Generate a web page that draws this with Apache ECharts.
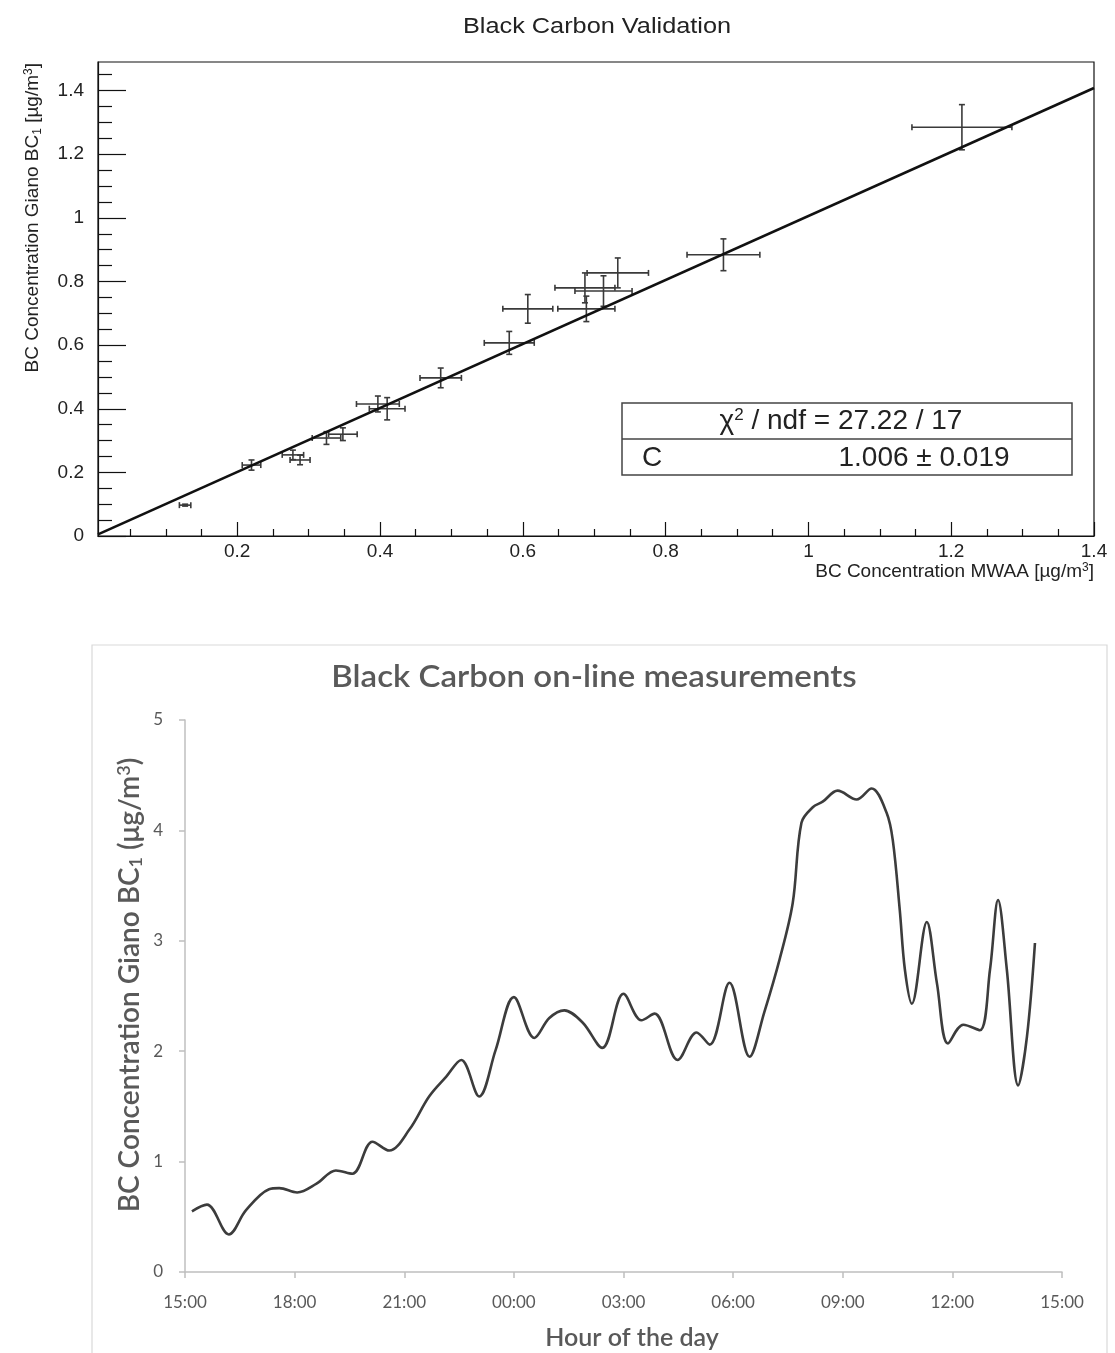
<!DOCTYPE html>
<html>
<head>
<meta charset="utf-8">
<script src="https://cdn.jsdelivr.net/npm/echarts@6/dist/echarts.min.js"></script>
<style>
html,body{margin:0;padding:0;background:#fff;}
#chart{width:1115px;height:1353px;}
</style>
</head>
<body>
<div id="chart"></div>
<script>
// ---------- Top chart: Black Carbon Validation ----------
const bcMWAA   = [0.127, 0.220, 0.278, 0.288, 0.325, 0.348, 0.397, 0.410, 0.485, 0.581, 0.607, 0.687, 0.689, 0.713, 0.733, 0.881, 1.215];
const bcGiano  = [0.097, 0.223, 0.255, 0.239, 0.308, 0.320, 0.415, 0.400, 0.497, 0.607, 0.714, 0.780, 0.714, 0.770, 0.827, 0.884, 1.285];
const errMWAA  = [0.008, 0.013, 0.015, 0.014, 0.020, 0.020, 0.030, 0.025, 0.029, 0.035, 0.035, 0.042, 0.040, 0.040, 0.043, 0.051, 0.070];
const errGiano = [0.003, 0.016, 0.015, 0.015, 0.020, 0.020, 0.025, 0.035, 0.031, 0.036, 0.045, 0.047, 0.040, 0.048, 0.047, 0.050, 0.071];
const fitC = 1.006, fitErr = 0.019, chi2 = 27.22, ndf = 17;
const topXMajor = [0.2, 0.4, 0.6, 0.8, 1, 1.2, 1.4];
const topYMajor = [0, 0.2, 0.4, 0.6, 0.8, 1, 1.2, 1.4];
const topXRange = [0.005, 1.4];
const topYRange = [0, 1.49];

// ---------- Bottom chart: on-line measurements ----------
const hourLabels = ['15:00','18:00','21:00','00:00','03:00','06:00','09:00','12:00','15:00'];
const hoursSince15 = [0.19, 0.6, 1.2, 1.67, 2.3, 2.58, 3.07, 3.6, 4.13, 4.58, 5.13, 5.59, 6.14, 6.68, 7.15, 7.56, 8.05, 8.5, 9.0, 9.56, 9.97, 10.38, 10.88, 11.42, 12.0, 12.49, 12.85, 13.48, 14.0, 14.36, 14.9, 15.45, 15.85, 16.27, 16.63, 16.87, 17.18, 17.45, 17.86, 18.38, 18.79, 19.2, 19.37, 19.56, 19.7, 19.89, 20.3, 20.58, 20.88, 21.3, 21.75, 22.03, 22.25, 22.49, 22.8, 23.04, 23.26];
const bcOnline = [0.55, 0.61, 0.34, 0.56, 0.75, 0.76, 0.72, 0.80, 0.92, 0.89, 1.18, 1.10, 1.29, 1.59, 1.77, 1.92, 1.59, 2.01, 2.49, 2.12, 2.30, 2.37, 2.26, 2.03, 2.52, 2.28, 2.34, 1.92, 2.17, 2.06, 2.62, 1.95, 2.35, 2.83, 3.34, 4.07, 4.21, 4.26, 4.36, 4.28, 4.38, 4.16, 3.91, 3.28, 2.74, 2.43, 3.17, 2.61, 2.07, 2.24, 2.19, 2.74, 3.37, 2.74, 1.69, 2.13, 2.98];

function minorTicks(lo, hi, step, majors) {
  const out = [];
  for (let v = Math.ceil(lo / step) * step; v <= hi + 1e-9; v += step) {
    const r = Math.round(v * 1000) / 1000;
    if (!majors.some(m => Math.abs(m - r) < 1e-6)) out.push(r);
  }
  return out;
}
const topXMinor = minorTicks(topXRange[0], topXRange[1], 0.05, topXMajor);
const topYMinor = minorTicks(topYRange[0], topYRange[1], 0.05, topYMajor);

const chart = echarts.init(document.getElementById('chart'), null, {renderer: 'canvas'});
const rootFont = 'Liberation Sans';
const xlFont = 'Lato';

const option = {
  backgroundColor: '#fff',
  animation: false,
  grid: [
    {left: 98, top: 62, width: 996, height: 474, show: true, borderColor: '#111', borderWidth: 1.2, backgroundColor: 'transparent'},
    {left: 185, top: 720, width: 877, height: 552}
  ],
  xAxis: [
    {gridIndex: 0, type: 'value', position: 'bottom', min: topXRange[0], max: topXRange[1],
     axisLine: {show: true, onZero: false, lineStyle: {color: '#111', width: 1.2}},
     axisTick: {show: true, inside: true, length: 14, customValues: topXMajor, lineStyle: {color: '#111', width: 1.2}},
     axisLabel: {customValues: topXMajor, color: '#222', fontSize: 19, fontFamily: rootFont, margin: 6},
     splitLine: {show: false}},
    {gridIndex: 0, type: 'value', position: 'bottom', min: topXRange[0], max: topXRange[1],
     axisLine: {show: false},
     axisTick: {show: true, inside: true, length: 7, customValues: topXMinor, lineStyle: {color: '#111', width: 1.2}},
     axisLabel: {show: false}, splitLine: {show: false}},
    {gridIndex: 1, type: 'value', position: 'bottom', min: 0, max: 24, interval: 3,
     axisLine: {show: true, onZero: false, lineStyle: {color: '#bfbfbf', width: 1.5}},
     axisTick: {show: true, inside: false, length: 6, lineStyle: {color: '#bfbfbf', width: 1.5}},
     axisLabel: {color: '#595959', fontSize: 17, fontFamily: xlFont, margin: 22,
                 formatter: v => hourLabels[Math.round(v / 3)]},
     splitLine: {show: false}}
  ],
  yAxis: [
    {gridIndex: 0, type: 'value', position: 'left', min: topYRange[0], max: topYRange[1],
     axisLine: {show: true, onZero: false, lineStyle: {color: '#111', width: 1.2}},
     axisTick: {show: true, inside: true, length: 28, customValues: topYMajor, lineStyle: {color: '#111', width: 1.2}},
     axisLabel: {customValues: topYMajor, color: '#222', fontSize: 19, fontFamily: rootFont, margin: 14},
     splitLine: {show: false}},
    {gridIndex: 0, type: 'value', position: 'left', min: topYRange[0], max: topYRange[1],
     axisLine: {show: false},
     axisTick: {show: true, inside: true, length: 14, customValues: topYMinor, lineStyle: {color: '#111', width: 1.2}},
     axisLabel: {show: false}, splitLine: {show: false}},
    {gridIndex: 1, type: 'value', position: 'left', min: 0, max: 5, interval: 1,
     axisLine: {show: true, lineStyle: {color: '#bfbfbf', width: 1.5}},
     axisTick: {show: true, inside: false, length: 6, lineStyle: {color: '#bfbfbf', width: 1.5}},
     axisLabel: {color: '#595959', fontSize: 17, fontFamily: xlFont, margin: 22},
     splitLine: {show: false}}
  ],
  series: [
    {
      type: 'line', xAxisIndex: 0, yAxisIndex: 0,
      data: [[topXRange[0], fitC * topXRange[0]], [topXRange[1], fitC * topXRange[1]]],
      showSymbol: false, silent: true,
      lineStyle: {color: '#111', width: 2.6}, z: 3
    },
    {
      type: 'custom', xAxisIndex: 0, yAxisIndex: 0,
      data: bcMWAA.map((x, i) => [x, bcGiano[i], errMWAA[i], errGiano[i]]),
      renderItem: function (params, api) {
        const x = api.value(0), y = api.value(1), ex = api.value(2), ey = api.value(3);
        const l = api.coord([x - ex, y]), r = api.coord([x + ex, y]);
        const b = api.coord([x, y - ey]), t = api.coord([x, y + ey]);
        const c = 3;
        const st = {stroke: '#3a3a3a', lineWidth: 1.6};
        const seg = (x1, y1, x2, y2) => ({type: 'line', shape: {x1, y1, x2, y2}, style: st});
        return {type: 'group', children: [
          seg(l[0], l[1], r[0], r[1]),
          seg(b[0], b[1], t[0], t[1]),
          seg(l[0], l[1] - c, l[0], l[1] + c),
          seg(r[0], r[1] - c, r[0], r[1] + c),
          seg(b[0] - c, b[1], b[0] + c, b[1]),
          seg(t[0] - c, t[1], t[0] + c, t[1])
        ]};
      },
      z: 2
    },
    {
      type: 'line', xAxisIndex: 2, yAxisIndex: 2,
      data: hoursSince15.map((h, i) => [h, bcOnline[i]]),
      smooth: 0.35, showSymbol: false,
      lineStyle: {color: '#3c3c3c', width: 2.6}
    }
  ],
  graphic: [
    // top chart texts
    {type: 'text', x: 597, y: 27, scaleX: 1.15, style: {text: 'Black Carbon Validation', font: '22px "Liberation Sans"', fill: '#222', textAlign: 'center', textVerticalAlign: 'middle'}},
    {type: 'text', x: 33, y: 63, rotation: Math.PI / 2, style: {
      rich: {n: {font: '19px "Liberation Sans"', fill: '#222'}, s: {font: '12px "Liberation Sans"', fill: '#222', padding: [9, 0, 0, 0]}, p: {font: '12px "Liberation Sans"', fill: '#222', padding: [0, 0, 9, 0]}},
      text: '{n|BC Concentration Giano BC}{s|1}{n| [µg/m}{p|3}{n|]}', textAlign: 'right', textVerticalAlign: 'middle'}},
    {type: 'text', x: 1094, y: 572, style: {
      rich: {n: {font: '19px "Liberation Sans"', fill: '#222'}, p: {font: '12px "Liberation Sans"', fill: '#222', padding: [0, 0, 9, 0]}},
      text: '{n|BC Concentration MWAA [µg/m}{p|3}{n|]}', textAlign: 'right', textVerticalAlign: 'middle'}},
    // stats box
    {type: 'rect', shape: {x: 622, y: 403, width: 450, height: 72}, style: {fill: '#fff', stroke: '#444', lineWidth: 1.5}, z: 10},
    {type: 'line', shape: {x1: 622, y1: 439, x2: 1072, y2: 439}, style: {stroke: '#444', lineWidth: 1.5}, z: 11},
    {type: 'text', x: 841, y: 421, z: 11, style: {
      rich: {n: {font: '28px "Liberation Sans"', fill: '#222'}, p: {font: '17px "Liberation Sans"', fill: '#222', padding: [0, 0, 11, 0]}},
      text: '{n|χ}{p|2}{n| / ndf = ' + chi2.toFixed(2) + ' / ' + ndf + '}', textAlign: 'center', textVerticalAlign: 'middle'}},
    {type: 'text', x: 642, y: 458, z: 11, style: {text: 'C', font: '28px "Liberation Sans"', fill: '#222', textAlign: 'left', textVerticalAlign: 'middle'}},
    {type: 'text', x: 924, y: 458, z: 11, style: {text: fitC.toFixed(3) + ' ± ' + fitErr.toFixed(3), font: '28px "Liberation Sans"', fill: '#222', textAlign: 'center', textVerticalAlign: 'middle'}},
    // bottom chart frame and texts
    {type: 'rect', shape: {x: 92, y: 645, width: 1015, height: 720}, style: {fill: 'none', stroke: '#d9d9d9', lineWidth: 1.2}, silent: true},
    {type: 'text', x: 594, y: 677, scaleX: 1.1, style: {text: 'Black Carbon on-line measurements', font: '600 30px Lato', fill: '#595959', textAlign: 'center', textVerticalAlign: 'middle'}},
    {type: 'text', x: 130, y: 985, rotation: Math.PI / 2, style: {
      rich: {n: {font: '600 28px Lato', fill: '#595959'}, s: {font: '600 18px Lato', fill: '#595959', padding: [12, 0, 0, 0]}, p: {font: '600 18px Lato', fill: '#595959', padding: [0, 0, 12, 0]}},
      text: '{n|BC Concentration Giano BC}{s|1}{n| (μg/m}{p|3}{n|)}', textAlign: 'center', textVerticalAlign: 'middle'}},
    {type: 'text', x: 632, y: 1338, style: {text: 'Hour of the day', font: '600 25px Lato', fill: '#595959', textAlign: 'center', textVerticalAlign: 'middle'}}
  ]
};
chart.setOption(option);
</script>
</body>
</html>
